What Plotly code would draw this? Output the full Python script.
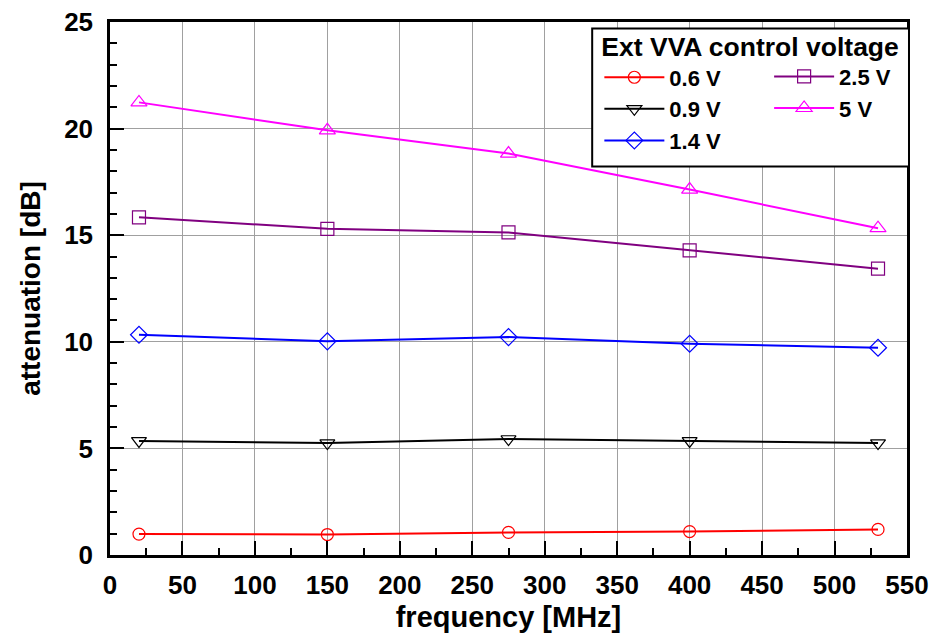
import plotly.graph_objects as go

frequency_mhz = [20, 150, 275, 400, 530]
att_0p6 = [0.98, 0.96, 1.06, 1.10, 1.20]
att_0p9 = [5.35, 5.25, 5.44, 5.35, 5.25]
att_1p4 = [10.33, 10.02, 10.22, 9.91, 9.72]
att_2p5 = [15.84, 15.30, 15.13, 14.29, 13.43]
att_5p0 = [21.23, 19.92, 18.83, 17.14, 15.33]

series_names = ["0.6 V", "0.9 V", "1.4 V", "2.5 V", "5 V"]
series_values = [att_0p6, att_0p9, att_1p4, att_2p5, att_5p0]
series_colors = ["#FF0000", "#000000", "#0000FF", "#800080", "#FF00FF"]
series_symbols = ["circle-open", "triangle-down-open", "diamond-open", "square-open", "triangle-up-open"]
series_sizes = [12, 13, 13, 13, 14]
series_legend = ["legend", "legend", "legend", "legend2", "legend2"]

x_ticks = list(range(0, 551, 50))
y_ticks = list(range(0, 26, 5))

FONT = "Liberation Sans"

fig = go.Figure()
for name, vals, col, sym, sz, lg in zip(series_names, series_values, series_colors,
                                        series_symbols, series_sizes, series_legend):
    fig.add_trace(go.Scatter(
        x=frequency_mhz, y=vals, name=name, mode="lines+markers",
        line=dict(color=col, width=2),
        marker=dict(symbol=sym, size=sz, color=col, line=dict(width=1.2, color=col)),
        legend=lg,
    ))

axis_common = dict(
    showline=True, linecolor="black", linewidth=2.5, mirror=True,
    ticks="inside", ticklen=14, tickwidth=2, tickcolor="black",
    showgrid=True, gridcolor="#A0A0A0", gridwidth=1,
    zeroline=False, automargin=False,
    tickfont=dict(family=FONT, size=26, color="black", weight="bold"),
)

fig.update_layout(
    width=933, height=633,
    margin=dict(l=110, r=26, t=22, b=78),
    plot_bgcolor="white", paper_bgcolor="white",
    showlegend=True,
    xaxis=dict(
        range=[0, 550], tickmode="array", tickvals=x_ticks,
        minor=dict(ticks="inside", ticklen=7, tickwidth=2, tickcolor="black", dtick=25, showgrid=False),
        title=dict(text="frequency [MHz]", font=dict(family=FONT, size=29, color="black", weight="bold"), standoff=8),
        ticklabelstandoff=5,
        **axis_common,
    ),
    yaxis=dict(
        range=[0, 25], tickmode="array", tickvals=y_ticks,
        minor=dict(ticks="inside", ticklen=7, tickwidth=2, tickcolor="black", dtick=1, showgrid=False),
        title=dict(text="attenuation [dB]", font=dict(family=FONT, size=28, color="black", weight="bold"), standoff=16),
        ticklabelstandoff=9,
        **axis_common,
    ),
    legend=dict(
        x=0.614, y=1.0, xanchor="left", yanchor="top",
        bgcolor="rgba(0,0,0,0)", borderwidth=0,
        itemwidth=60, tracegroupgap=0,
        title=dict(text="Ext VVA control voltage", font=dict(family=FONT, size=26.5, color="black", weight="bold")),
        font=dict(family=FONT, size=22, color="black", weight="bold"),
    ),
    legend2=dict(
        x=0.827, y=0.937, xanchor="left", yanchor="top",
        bgcolor="rgba(0,0,0,0)", borderwidth=0,
        itemwidth=60,
        font=dict(family=FONT, size=22, color="black", weight="bold"),
    ),
    shapes=[dict(
        type="rect", xref="paper", yref="paper",
        x0=0.605, x1=1.0025, y0=0.729, y1=0.988,
        line=dict(color="black", width=2), fillcolor="white", layer="above",
    )],
)

fig.write_html("out.html", config={"displayModeBar": False},
               post_script="document.body.style.margin='0';")
